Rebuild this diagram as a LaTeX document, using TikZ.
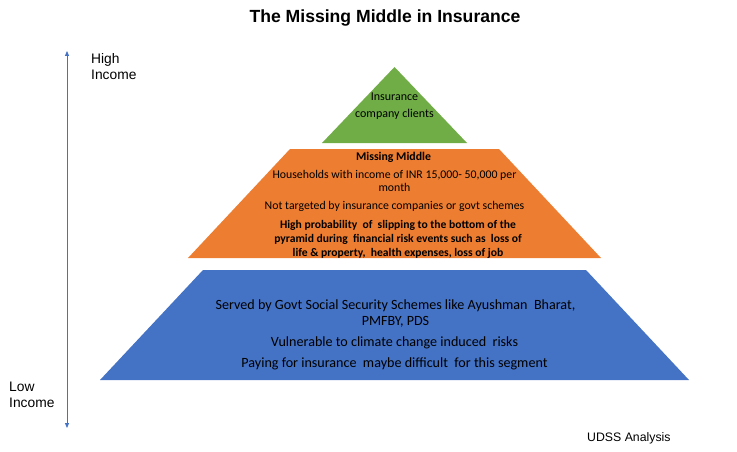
\documentclass[tikz,border=0pt]{standalone}
\usepackage{fontspec}
\setmainfont{Carlito}
\newfontfamily\arialf{Liberation Sans}
\usetikzlibrary{arrows.meta}
\definecolor{pgreen}{HTML}{70AD47}
\definecolor{porange}{HTML}{ED7D31}
\definecolor{pblue}{HTML}{4472C4}
\begin{document}
\begin{tikzpicture}[x=1pt,y=-1pt,
  txt/.style={align=center,inner sep=0pt},
  side/.style={align=left,inner sep=0pt,anchor=north west,font=\arialf\fontsize{13.8}{16}\selectfont}]
\useasboundingbox (0,0) rectangle (737,452);
% title
\node[inner sep=0pt,font=\arialf\bfseries\fontsize{17.6}{20}\selectfont] (title) at (385,18) {The Missing Middle in Insurance};
% levels
\fill[pgreen] (394.5,67) -- (467,143) -- (322,143) -- cycle;
\fill[porange] (290,149) -- (499,149) -- (601,258) -- (188,258) -- cycle;
\fill[pblue] (203,270) -- (586,270) -- (689,380) -- (100,380) -- cycle;
% green text
\node[txt,font=\fontsize{12}{17}\selectfont] (gtext) at (394.5,106) {Insurance\\company clients};
% orange text
\node[txt,font=\bfseries\fontsize{11.8}{13}\selectfont] (o1) at (393.5,157) {Missing Middle};
\node[txt,font=\fontsize{11.8}{13}\selectfont] (o2) at (394.5,181) {Households\ with income of INR 15,000- 50,000 per\\month};
\node[txt,font=\fontsize{11.8}{13}\selectfont] (o3) at (394.5,206) {Not targeted by insurance companies or govt schemes};
\node[txt,font=\bfseries\fontsize{11.6}{14}\selectfont] (o4) at (398,239) {High probability\ \ of \ slipping to the bottom of the\\pyramid during \ financial risk events such as\ \ loss of\\life \& property, \ health expenses, loss of job};
% blue text
\node[txt,font=\fontsize{14.1}{16}\selectfont] (b1) at (395.5,314) {Served by Govt Social Security Schemes like Ayushman\ \ Bharat,\\PMFBY, PDS};
\node[txt,font=\fontsize{14.1}{16}\selectfont] (b2) at (394.5,342.5) {Vulnerable to climate change induced\ \ risks};
\node[txt,font=\fontsize{14.1}{16}\selectfont] (b3) at (394.5,363.5) {Paying for insurance\ \ maybe difficult\ \ for this segment};
% axis
\coordinate (top) at (67,51);
\coordinate (bot) at (67,428);
\draw[pblue,line width=0.8pt,{Triangle[length=5pt,width=4pt]}-{Triangle[length=5pt,width=4pt]}] (top) -- (bot);
\node[side] (high) at (91,53) {High\\Income};
\node[side] (low) at (9,382) {Low\\Income};
\node[inner sep=0pt,anchor=west,font=\arialf\fontsize{12.3}{14}\selectfont] (src) at (587,438) {UDSS Analysis};
\end{tikzpicture}
\end{document}
